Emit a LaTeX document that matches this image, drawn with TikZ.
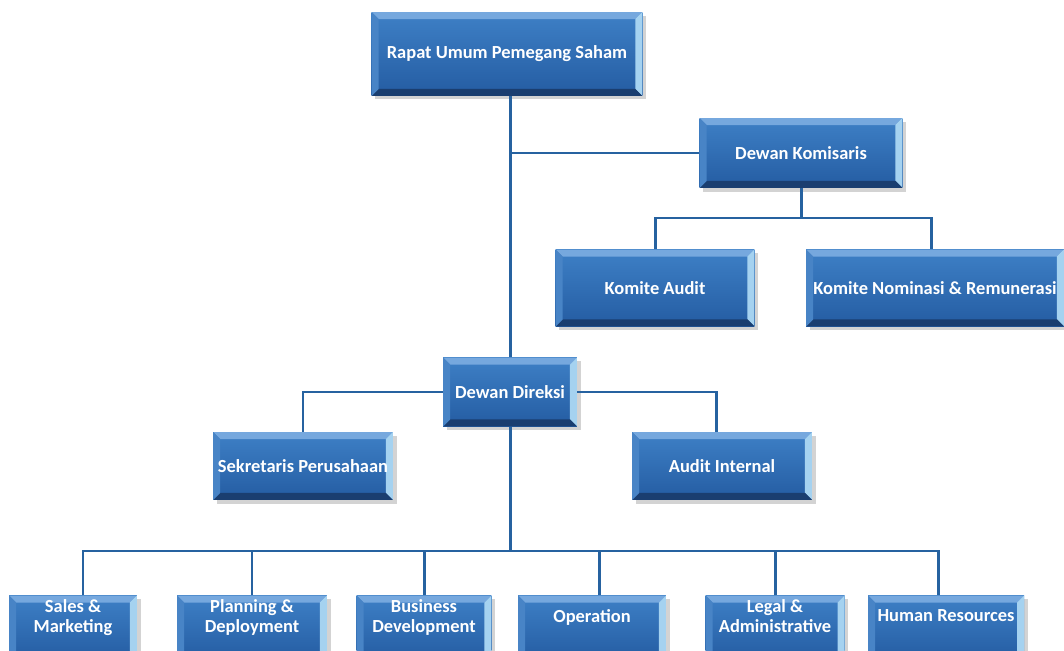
\documentclass[tikz,border=0pt]{standalone}
\usepackage{fontspec}
\setmainfont{Carlito}
\usetikzlibrary{positioning,
        shadows}
\usepackage{xcolor}
\definecolor{facetop}{RGB}{62,128,198}
\definecolor{facebot}{RGB}{36,92,162}
\definecolor{bevtop}{RGB}{118,168,222}
\definecolor{bevright}{RGB}{165,210,240}
\definecolor{bevbot}{RGB}{26,62,112}
\definecolor{bevleft}{RGB}{72,132,198}
\definecolor{linkblue}{RGB}{38,98,160}

\begin{document}
\begin{tikzpicture}[x=0.02cm,y=-0.02cm,
        unit/.style={rectangle,top color=facetop,bottom color=facebot,
                text=white,font=\fontsize{10.5}{11.5}\selectfont\bfseries,
                align=center,inner sep=2pt,
                drop shadow={shadow xshift=2pt,shadow yshift=-2pt,opacity=0.35},
                path picture={
                        \path (path picture bounding box.north west) coordinate (pnw)
                                (path picture bounding box.north east) coordinate (pne)
                                (path picture bounding box.south west) coordinate (psw)
                                (path picture bounding box.south east) coordinate (pse);
                        \fill[bevtop] (pnw) -- (pne) -- ([shift={(-7,7)}]pne) -- ([shift={(7,7)}]pnw) -- cycle;
                        \fill[bevright] (pne) -- (pse) -- ([shift={(-7,-7)}]pse) -- ([shift={(-7,7)}]pne) -- cycle;
                        \fill[bevbot] (pse) -- (psw) -- ([shift={(7,-7)}]psw) -- ([shift={(-7,-7)}]pse) -- cycle;
                        \fill[bevleft] (psw) -- (pnw) -- ([shift={(7,7)}]pnw) -- ([shift={(7,-7)}]psw) -- cycle;
                }},
        lowunit/.style={unit,minimum height=1.3cm,text depth=14pt},
        link/.style={draw=linkblue,line width=1.7pt}]
        \useasboundingbox (0,0) rectangle (1064,651);

        \coordinate (kbar) at (801,218);
        \coordinate (dbar) at (510,551);

        \node [unit,minimum width=5.42cm,minimum height=1.68cm] (rups) at (507,54) {Rapat Umum Pemegang Saham};
        \node [unit,minimum width=4.06cm,minimum height=1.40cm] (komisaris) at (801,153) {Dewan Komisaris};
        \node [unit,minimum width=3.98cm,minimum height=1.54cm] (kaudit) at (655,288) {Komite Audit};
        \node [unit,minimum width=5.16cm,minimum height=1.54cm] (knominasi) at (935,288) {Komite Nominasi \& Remunerasi};
        \node [unit,minimum width=2.68cm,minimum height=1.38cm] (direksi) at (510,392) {Dewan Direksi};
        \node [unit,minimum width=3.60cm,minimum height=1.36cm] (sekretaris) at (303,466) {Sekretaris Perusahaan};
        \node [unit,minimum width=3.60cm,minimum height=1.36cm] (internal) at (722,466) {Audit Internal};

        % bottom row runs past the lower edge
        \node [lowunit,minimum width=2.56cm] (sales) at (73,628) {Sales \&\\Marketing};
        \node [lowunit,minimum width=3.00cm] (planning) at (252,628) {Planning \&\\Deployment};
        \node [lowunit,minimum width=2.70cm] (business) at (424,628) {Business\\Development};
        \node [lowunit,minimum width=2.96cm] (operation) at (592,628) {Operation};
        \node [lowunit,minimum width=2.78cm] (legal) at (775,628) {Legal \&\\Administrative};
        \node [lowunit,minimum width=3.12cm] (hr) at (946,628) {Human Resources};

        \draw [link] (rups.south -| direksi.north) -- (direksi.north);
        \draw [link] (komisaris.west) -- (komisaris.west -| direksi.north);
        \draw [link] (komisaris.south) -- (kbar);
        \draw [link] (kaudit.north) |- (kbar) -| ([shift={(-4,0)}]knominasi.north);
        \draw [link] (sekretaris.north) |- (direksi.west);
        \draw [link] (direksi.east) -| ([shift={(-6,0)}]internal.north);
        \draw [link] (direksi.south) -- (dbar);
        \draw [link] ([shift={(10,0)}]sales.north) |- (dbar) -| ([shift={(-8,0)}]hr.north);
        \draw [link] (planning.north) -- (planning.north |- dbar);
        \draw [link] (business.north) -- (business.north |- dbar);
        \draw [link] ([shift={(7,0)}]operation.north) -- ([shift={(7,0)}]operation.north |- dbar);
        \draw [link] (legal.north) -- (legal.north |- dbar);
\end{tikzpicture}
\end{document}
